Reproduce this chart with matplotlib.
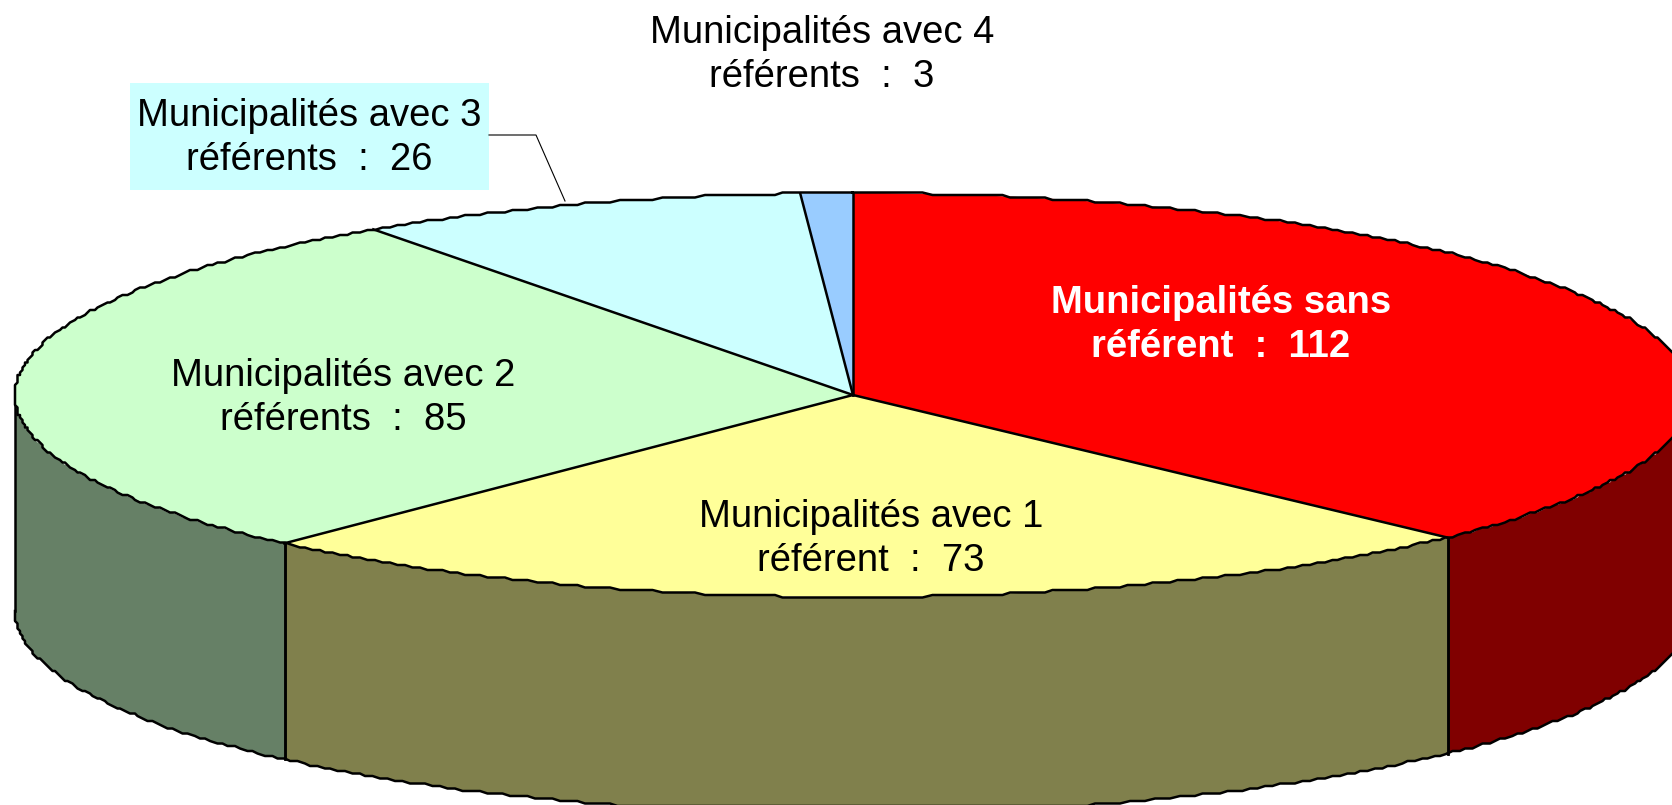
#!/usr/bin/env python3
"""Pseudo-3D pie of municipalities by number of referents."""

import matplotlib
matplotlib.use("Agg")
import matplotlib.pyplot as plt
import numpy as np
from matplotlib.lines import Line2D
from matplotlib.patches import Rectangle

WIDTH, HEIGHT = 1672, 805

labels = [
    "Municipalités sans\nréférent  :  112",
    "Municipalités avec 1\nréférent  :  73",
    "Municipalités avec 2\nréférents  :  85",
    "Municipalités avec 3\nréférents  :  26",
    "Municipalités avec 4\nréférents  :  3",
]
values = [112, 73, 85, 26, 3]
top_colors = ["#FF0000", "#FFFF99", "#CCFFCC", "#CCFFFF", "#99CCFF"]
side_colors = ["#800000", "#80804C", "#668066", "#668080", "#4C6680"]

# ellipse geometry in pixels
CX, CY = 853, 395
RX, RY = 838, 202
DEPTH = 216 / RY
LINE = 1.8
GRID = 2.5  # the rim of the original is rough, snap it to a coarse pixel grid

plt.rcParams["font.family"] = ["Liberation Sans", "DejaVu Sans"]


def fig_xy(x, y):
    """Convert reference pixel coords to figure fractions."""
    return x / WIDTH, 1 - y / HEIGHT


def rim(start, stop):
    """Rough rim between two clockwise angles (degrees from top), in axes data units."""
    n = max(2, int(abs(stop - start) / 0.6) + 1)
    theta = np.radians(np.linspace(start, stop, n))
    px = np.round((CX + RX * np.sin(theta)) / GRID) * GRID
    py = np.round((CY - RY * np.cos(theta)) / GRID) * GRID
    return (px - CX) / RX, (CY - py) / RY


fig = plt.figure(figsize=(WIDTH / 100, HEIGHT / 100), dpi=100)
ax = fig.add_axes([0, 0, 1, 1])

wedges, _ = ax.pie(values, colors=top_colors, startangle=90, counterclock=False,
                   radius=1, wedgeprops={"linewidth": 0, "zorder": 3})
ax.set_aspect("auto")
ax.set_xlim((0 - CX) / RX, (WIDTH - CX) / RX)
ax.set_ylim((CY - HEIGHT) / RY, CY / RY)

edges = np.cumsum([0] + values) / sum(values) * 360

# side walls, only the front half of the disc is visible
for start, stop, color in zip(edges[:-1], edges[1:], side_colors):
    lo, hi = max(start, 90), min(stop, 270)
    if lo >= hi:
        continue
    x, y = rim(lo, hi)
    xs = np.concatenate([x, x[::-1]])
    ys = np.concatenate([y, y[::-1] - DEPTH])
    ax.fill(xs, ys, facecolor=color, edgecolor="none", zorder=2)
    ax.plot(x, y - DEPTH, color="black", linewidth=LINE, zorder=2.5)
    # vertical seams, plus the silhouette at the left and right ends
    for i in (0, -1):
        ax.plot([x[i], x[i]], [y[i], y[i] - DEPTH], color="black", linewidth=LINE, zorder=2.5)

# top outline: spokes and rim
x, y = rim(0, 360)
ax.plot(x, y, color="black", linewidth=LINE, zorder=4)
for angle in edges[:-1]:
    t = np.radians(angle)
    ax.plot([0, np.sin(t)], [0, np.cos(t)], color="black", linewidth=LINE, zorder=4)

# label box and leader line of the "3 referents" slice
bx0, by0 = fig_xy(130, 190)
bx1, by1 = fig_xy(489, 83)
fig.add_artist(Rectangle((bx0, by0), bx1 - bx0, by1 - by0, transform=fig.transFigure,
                         facecolor="#CCFFFF", edgecolor="none"))
leader = [fig_xy(489, 135), fig_xy(536, 135), fig_xy(565, 201)]
fig.add_artist(Line2D([p[0] for p in leader], [p[1] for p in leader], color="black", linewidth=0.8))

label_pos = [(1221, 325), (871, 539), (343, 398), (309, 138), (822, 55)]
for i, (label, pos) in enumerate(zip(labels, label_pos)):
    fx, fy = fig_xy(*pos)
    fig.text(fx, fy, label, ha="center", va="center", fontsize=27.5, linespacing=1.29,
             color="white" if i == 0 else "black", fontweight="bold" if i == 0 else "normal")

fig.savefig("out.png", dpi=100, facecolor="white")
plt.close(fig)
